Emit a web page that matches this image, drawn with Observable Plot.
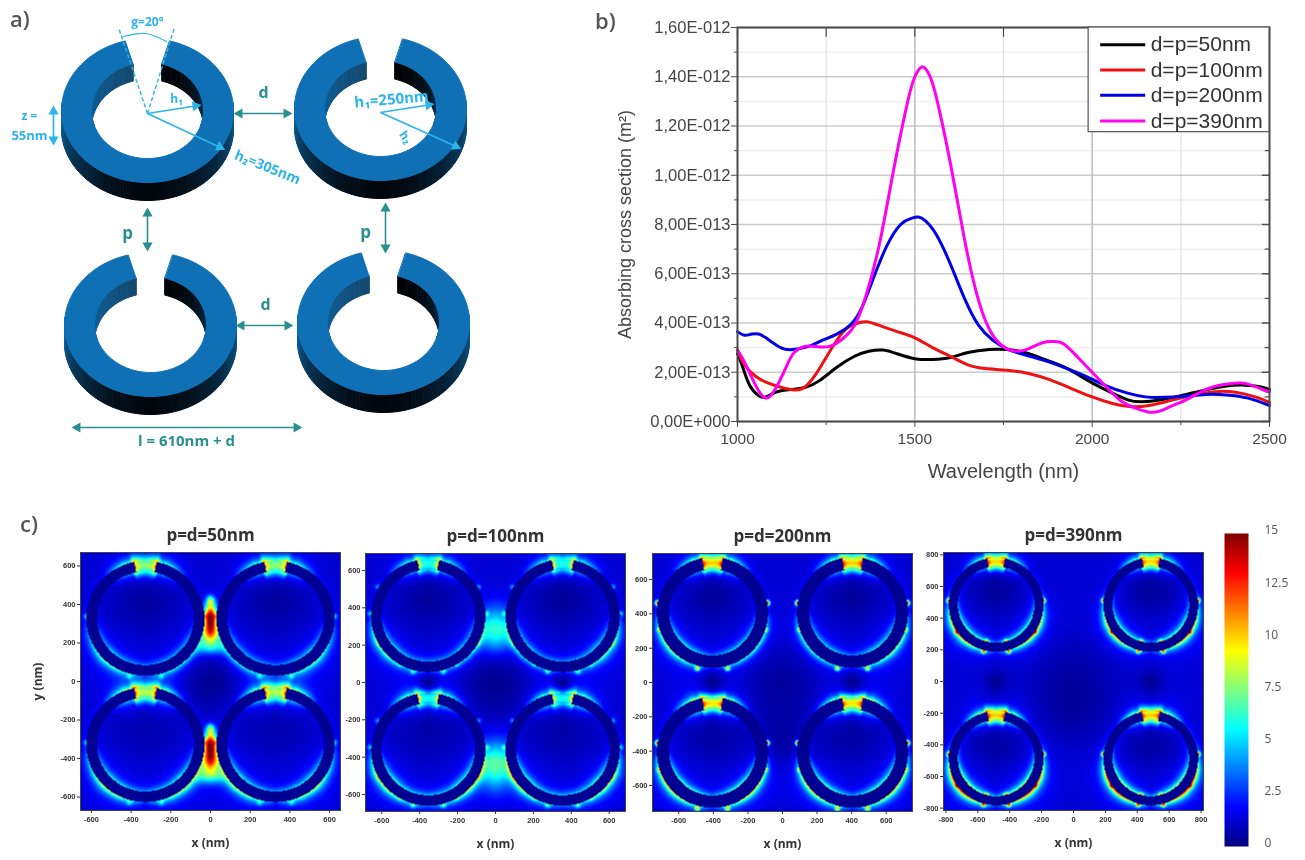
<!DOCTYPE html>
<html><head><meta charset="utf-8">
<script src="https://cdn.jsdelivr.net/npm/d3@7"></script>
<script src="https://cdn.jsdelivr.net/npm/@observablehq/plot@0.6"></script>
<style>
html,body{margin:0;background:#fff;width:1305px;height:860px;overflow:hidden}
#page{position:relative;width:1305px;height:860px}
#page svg{position:absolute;max-width:none;overflow:visible;filter:blur(.6px);background:transparent}
.tag{position:absolute;font:600 22px "Open Sans",sans-serif;color:#555;filter:blur(.5px)}
</style></head><body><div id="page"></div>
<script>
// ---------- panel b: curves (value in 1e-13 m²)
const wlBlack=[1000,1015,1035,1060,1080,1110,1150,1190,1230,1280,1330,1370,1410,1450,1500,1550,1600,1650,1710,1760,1810,1870,1930,1990,2050,2100,2140,2190,2250,2310,2370,2420,2470,2500];
const csBlack=[2.75,2.2,1.45,1.05,1.0,1.2,1.3,1.38,1.65,2.2,2.65,2.85,2.9,2.75,2.55,2.52,2.6,2.8,2.92,2.92,2.8,2.5,2.15,1.65,1.2,.88,.8,.87,1.05,1.25,1.42,1.48,1.42,1.3];
const wlRed=[1000,1020,1050,1080,1120,1160,1190,1220,1250,1280,1310,1340,1365,1400,1450,1500,1550,1600,1650,1700,1760,1820,1880,1940,2000,2060,2110,2160,2220,2280,2340,2400,2460,2500];
const csRed=[2.9,2.3,1.85,1.6,1.4,1.28,1.4,1.9,2.6,3.3,3.8,4.0,4.05,3.9,3.65,3.4,3.0,2.65,2.3,2.15,2.08,1.95,1.7,1.35,1.0,.72,.6,.65,.85,1.05,1.2,1.2,1.0,.78];
const wlBlue=[1000,1020,1040,1060,1080,1110,1140,1170,1200,1240,1280,1320,1350,1380,1420,1460,1490,1510,1530,1560,1600,1640,1680,1720,1760,1800,1860,1920,1980,2040,2100,2150,2200,2260,2320,2380,2440,2500];
const csBlue=[3.65,3.5,3.55,3.55,3.4,3.1,2.92,2.95,3.05,3.3,3.55,3.95,4.6,5.7,7.1,8.0,8.25,8.3,8.15,7.6,6.4,5.0,3.9,3.3,2.95,2.75,2.5,2.2,1.85,1.45,1.15,1.0,.98,1.03,1.1,1.08,.95,.65];
const wlMag=[1000,1020,1050,1080,1110,1140,1160,1190,1220,1260,1300,1330,1360,1400,1440,1480,1500,1520,1540,1560,1600,1640,1680,1720,1760,1790,1820,1860,1890,1920,1960,2000,2040,2080,2120,2160,2190,2220,2260,2300,2340,2400,2440,2480,2500];
const csMag=[2.9,2.4,1.5,.95,1.4,2.3,2.8,3.05,3.05,3.05,3.4,3.9,5.0,7.2,10.2,13.0,14.0,14.4,14.1,13.2,10.5,7.4,4.9,3.5,2.95,2.85,2.95,3.2,3.25,3.15,2.6,2.0,1.4,.85,.55,.38,.42,.6,.85,1.15,1.4,1.55,1.52,1.3,1.2];
const seriesNames=["d=p=50nm","d=p=100nm","d=p=200nm","d=p=390nm"];
const seriesColors=["#000000","#ee1111","#0000e6","#ff00f0"];
const yMajor=[0,2,4,6,8,10,12,14,16], yMinor=[1,3,5,7,9,11,13,15], xMajor=[1000,1500,2000,2500], xMinor=[1250,1750,2250];

// ---------- panel c: features of each field map
const panelTitles=["p=d=50nm","p=d=100nm","p=d=200nm","p=d=390nm"];
const panelLeft=[80,365,652,943], panelTop=[552,553,553,552];
const halfX=[655,686,752,815], halfY=[670,691,752,815];
const ringX=[328,355,405,485], ringY=[328,358,408,485];
const rOuter=[298,302,322,297], rInner=[243,246,250,240];
const panelTicks=[[-600,-400,-200,0,200,400,600],[-600,-400,-200,0,200,400,600],[-600,-400,-200,0,200,400,600],[-800,-600,-400,-200,0,200,400,600,800]];
const glowAngles=[0,20,45,70,90,115,135,155,180];
const outerGlow=[[.5,6,.7,.4,.8,3.5,6,5,1],[.5,5.5,.7,.4,.8,6,6,3.5,1.5],[.5,6.5,.8,.5,1.2,6,7,5,1],[.5,6.5,1,1,3,9,10,6,1]];
const innerGlow=[[.5,3.5,.2,.1,.5,2.5,3.5,3,2],[.5,3.5,.2,.1,.5,3,4,3,2.5],[.5,4,.2,.2,.9,3.5,4.5,4,2],[.5,4,.4,.8,2.2,5,5.5,5,2]];
const gapEdge=[13,12.5,15,15], gapCentre=[8,6,10.5,11];
const hotSpots=[
 [[0,332,22,48,14],[0,250,30,35,8],[0,180,55,30,5],[0,420,14,18,5],[0,-332,22,48,14],[0,-415,30,35,8],[0,-485,55,30,5],[0,-245,14,18,5]],
 [[0,275,50,90,5],[0,-435,50,90,5]],
 [],
 []];
const darkSpots=[
 [[0,0,110,.75],[328,420,110,.6],[-328,420,110,.6],[328,-240,110,.4],[-328,-240,110,.4]],
 [[0,0,130,.8],[-355,0,35,.8],[355,0,35,.8],[-355,450,110,.65],[355,450,110,.65],[-355,-260,110,.5],[355,-260,110,.5]],
 [[0,0,170,.6],[-405,0,45,.75],[405,0,45,.75],[-405,500,110,.65],[405,500,110,.65],[-405,-310,110,.55],[405,-310,110,.55],[0,-330,130,.55]],
 [[0,0,190,.5],[-485,0,50,.7],[485,0,50,.7],[-485,580,110,.65],[485,580,110,.65],[-485,-390,110,.55],[485,-390,110,.55],[0,-180,140,.45]]];
const edgeDots=[
 [[88,0,3],[165,14,2.5]],
 [[60,6,2.5],[88,6,3],[120,-4,2.5],[150,-4,2.5],[165,8,3.5]],
 [[80,0,12],[108,2,4],[165,16,7]],
 [[85,0,10],[125,4,5],[165,8,8],[165,-58,6]]];
const jetStops=["#00007f","#0000ff","#00ffff","#ffff00","#ff0000","#7f0000"];
const jetAt=[0,.125,.375,.625,.875,1];
const cbarValues=[0,2.5,5,7.5,10,12.5,15];

// ---------- panel a: the ring diagram (page pixels)
const ringCx=[147,380,150,383], ringCy=[110,108,324,322];
const tealFrom=[236,147,385,238,74], tealFromY=[113,210,205,325,427], tealTo=[289,147,385,290,299], tealToY=[113,248,250,325,427];
const cyanFrom=[147,147,53,380,380], cyanFromY=[113,113,108,112,112], cyanTo=[198,222,53,431,458], cyanToY=[105,148,142,104,147];
const cyanBoth=[false,false,true,false,false];
const dashFrom=[147,147], dashFromY=[113,113], dashTo=[118,174], dashToY=[27,27];
const arcX=[123,145,166], arcY=[36,33,41];
const tealText=["d","p","p","d","l = 610nm + d"], tealTextX=[263,127,365,265,186], tealTextY=[92,233,232,304,441], tealTextSize=[16,17,17,16,15];
const cyanText=["g=20°","h₁","z =","55nm","h₂=305nm","h₁=250nm","h₂"], cyanTextX=[147,176,29,29,267,391,405], cyanTextY=[22,99,116,135,167,99,137],cyanTextSize=[12,12,12,13,14,15,12], cyanRotate=[0,0,0,0,22,-5,55];

const page=document.getElementById("page");
const fontB='"Liberation Sans",Arial,sans-serif', fontO='"Open Sans",sans-serif';
function place(svg,left,top){svg.style.left=left+"px";svg.style.top=top+"px";page.appendChild(svg);}
function tag(t,x,y){const d=document.createElement("div");d.className="tag";d.textContent=t;d.style.left=x+"px";d.style.top=y+"px";page.appendChild(d);}
tag("a)",10,3);tag("b)",595,5);tag("c)",20,508);

// ---------- panel a
function ringRows(cx,cy,idx){
 const rx=86,ry=72,irx=56,iry=48,depth=18,gap=15,rows=[];
 const O=t=>[cx+rx*Math.sin(t*Math.PI/180),cy-ry*Math.cos(t*Math.PI/180)];
 const I=t=>[cx+irx*Math.sin(t*Math.PI/180),cy-iry*Math.cos(t*Math.PI/180)];
 const side=d3.interpolateRgb("#02070d","#0e6aa8"), wallR=d3.interpolateRgb("#020407","#0d5c92"), wallL=d3.interpolateRgb("#134a70","#0e68a6");
 const add=(k,c,pts)=>pts.forEach(p=>rows.push({x:p[0],y:p[1],k:idx+k,c}));
 for(let t=84;t<276;t+=2){
  const a=O(t),b=O(t+2),u=Math.min(1,Math.pow(Math.abs(t+1-180)/96,1.7));
  add("s"+t,side(u),[a,b,[b[0],b[1]+depth],[a[0],a[1]+depth]]);
 }
 for(let t=gap;t<108;t+=2){
  const a=I(t),b=I(t+2),u=(t-gap)/93;
  add("wr"+t,wallR(u*u),[a,b,[b[0],b[1]+depth-1],[a[0],a[1]+depth-1]]);
  const a2=I(-t),b2=I(-t-2);
  add("wl"+t,wallL(u),[a2,b2,[b2[0],b2[1]+depth-1],[a2[0],a2[1]+depth-1]]);
 }
 const top=[];
 for(let t=gap;t<=360-gap;t+=3)top.push(O(t));
 for(let t=360-gap;t>=gap;t-=3)top.push(I(t));
 add("top","#0f70b6",top);
 return rows;
}
const ringData=ringCx.flatMap((c,i)=>ringRows(c,ringCy[i],"r"+i));
const linkRows=(a,b,c,d)=>a.map((v,i)=>({x1:v,y1:b[i],x2:c[i],y2:d[i]}));
const textRows=(t,x,y,s,r)=>t.map((v,i)=>({t:v,x:x[i],y:y[i],s:s[i],r:r?r[i]:0}));
function headRows(rows,both){
 const out=[];
 rows.forEach((l,i)=>{
  const dx=l.x2-l.x1,dy=l.y2-l.y1,n=Math.hypot(dx,dy),a=Math.atan2(dx,-dy)*180/Math.PI;
  out.push({x:l.x2-3*dx/n,y:l.y2-3*dy/n,r:a});
  if(both===true||(both&&both[i]))out.push({x:l.x1+3*dx/n,y:l.y1+3*dy/n,r:a+180});
 });
 return out;
}
const tealLinks=linkRows(tealFrom,tealFromY,tealTo,tealToY), cyanLinks=linkRows(cyanFrom,cyanFromY,cyanTo,cyanToY);
const linkOpts={x1:"x1",y1:"y1",x2:"x2",y2:"y2"};
place(Plot.plot({width:590,height:470,margin:0,
 x:{domain:[0,590],range:[0,590],axis:null},y:{domain:[0,470],range:[0,470],axis:null},color:{type:"identity"},
 marks:[
  Plot.line(ringData,{x:"x",y:"y",z:"k",fill:"c",stroke:"c",strokeWidth:1,curve:"linear-closed"}),
  Plot.link(tealLinks,{...linkOpts,stroke:"#2a8f8f",strokeWidth:1.6}),
  Plot.dot(headRows(tealLinks,true),{x:"x",y:"y",rotate:"r",symbol:"triangle",r:3.8,fill:"#2a8f8f"}),
  Plot.link(linkRows(dashFrom,dashFromY,dashTo,dashToY),{...linkOpts,stroke:"#2bb5ea",strokeWidth:1.4,strokeDasharray:"4,2.5"}),
  Plot.line(arcX.map((v,i)=>({x:v,y:arcY[i]})),{x:"x",y:"y",stroke:"#2bb5ea",strokeWidth:1.2,curve:"natural"}),
  Plot.link(cyanLinks,{...linkOpts,stroke:"#2bb5ea",strokeWidth:1.7}),
  Plot.dot(headRows(cyanLinks,cyanBoth),{x:"x",y:"y",rotate:"r",symbol:"triangle",r:3.8,fill:"#2bb5ea"}),
  Plot.text(textRows(tealText,tealTextX,tealTextY,tealTextSize),{x:"x",y:"y",text:"t",fontSize:"s",fill:"#2a8f8f",fontWeight:700,fontFamily:fontO}),
  Plot.text(textRows(cyanText,cyanTextX,cyanTextY,cyanTextSize,cyanRotate),{x:"x",y:"y",text:"t",fontSize:"s",rotate:"r",fill:"#2bb5ea",fontWeight:700,fontFamily:fontO})
 ]}),0,0);

// ---------- panel b
const bW=532,bH=394,bL=135,bT=10;
const toRows=(xs,ys)=>xs.map((x,i)=>({x,y:ys[i]}));
const fmtE=v=>v===0?"0,00E+000":(v>=10?(v/10).toFixed(2).replace(".",",")+"E-012":v.toFixed(2).replace(".",",")+"E-013");
const legendY=[15.3,14.27,13.25,12.2];
const dark="#4a4a4a";
const curveLine=(xs,ys,c)=>Plot.line(toRows(xs,ys),{x:"x",y:"y",stroke:c,strokeWidth:3,curve:"natural"});
place(Plot.plot({width:bL+bW+36,height:bT+bH+65,marginLeft:bL,marginTop:bT,marginRight:36,marginBottom:65,
 style:{fontFamily:fontB,color:"#444"},
 x:{domain:[1000,2500],axis:null},y:{domain:[0,16],axis:null},
 marks:[
  Plot.ruleY(yMinor,{stroke:"#efefef",strokeWidth:1.5}),
  Plot.ruleX(xMinor,{stroke:"#e2e2e2",strokeWidth:1.2}),
  Plot.ruleY(yMajor,{stroke:"#cbcbcb",strokeWidth:1.6}),
  Plot.ruleX(xMajor.slice(1,3),{stroke:"#bdbdbd",strokeWidth:1.5}),
  curveLine(wlBlack,csBlack,seriesColors[0]),
  curveLine(wlRed,csRed,seriesColors[1]),
  curveLine(wlBlue,csBlue,seriesColors[2]),
  curveLine(wlMag,csMag,seriesColors[3]),
  Plot.ruleY(yMajor,{x1:2480,x2:2500,stroke:dark,strokeWidth:1.4}),
  Plot.ruleY(yMinor,{x1:2488,x2:2500,stroke:dark,strokeWidth:1.2}),
  Plot.ruleX(xMajor.concat(xMinor),{y1:15.6,y2:16,stroke:dark,strokeWidth:1.2}),
  Plot.axisY({ticks:yMinor,tickSize:3,tickFormat:()=>"",label:null,stroke:dark}),
  Plot.axisY({ticks:yMajor,tickSize:6,tickFormat:fmtE,label:null,fontSize:16.5,stroke:dark,fill:"#444",tickPadding:1}),
  Plot.axisX({ticks:xMinor,tickSize:4,tickFormat:()=>"",label:null,stroke:dark}),
  Plot.axisX({ticks:xMajor,tickSize:6,label:null,fontSize:15.5,stroke:dark,fill:"#444",tickPadding:5,tickFormat:d=>String(d)}),
  Plot.text(["Absorbing cross section (m²)"],{frameAnchor:"left",textAnchor:"middle",dx:-112,rotate:-90,fontSize:18,fill:"#444"}),
  Plot.text(["Wavelength (nm)"],{frameAnchor:"bottom",dy:56,fontSize:20,fill:"#444"}),
  Plot.frame({stroke:dark,strokeWidth:2}),
  Plot.rectX([0],{x1:1990,x2:2500,y1:11.75,y2:16,fill:"white",stroke:"#555",strokeWidth:1.2}),
  Plot.ruleY(legendY.map((y,i)=>({y,c:seriesColors[i]})),{y:"y",x1:2024,x2:2151,stroke:"c",strokeWidth:3}),
  Plot.text(legendY.map((y,i)=>({y,t:seriesNames[i]})),{x:()=>2165,y:"y",text:"t",textAnchor:"start",fontSize:21,fill:"#333"})
 ]}),737-bL,27-bT);

// ---------- panel c
const jet=d3.scaleLinear().domain(jetAt).range(jetStops).interpolate(d3.interpolateRgb);
const jetScale={type:"linear",domain:[0,15],interpolate:t=>jet(t),clamp:true};
function lookup(tb,a){for(let i=1;i<glowAngles.length;i++){if(a<=glowAngles[i]){const f=(a-glowAngles[i-1])/(glowAngles[i]-glowAngles[i-1]);return tb[i-1]+(tb[i]-tb[i-1])*f;}}return tb[tb.length-1];}
function field(p){
 const R=rOuter[p],Ri=rInner[p],Rm=(R+Ri)/2,G=11,cx=ringX[p],cy=ringY[p];
 const centres=[[-cx,cy],[cx,cy],[-cx,-cy],[cx,-cy]];
 const dots=[];
 for(const c of centres)for(const d of edgeDots[p])for(const s of [-1,1]){const a=s*d[0]*Math.PI/180,r=R+d[1];dots.push([c[0]+r*Math.sin(a),c[1]+r*Math.cos(a),d[2]]);}
 return (x,y)=>{
  let v=1.2,solid=false;
  for(const c of centres){
   const dx=x-c[0],dy=y-c[1],r=Math.hypot(dx,dy);
   if(r>R+260)continue;
   const th=Math.abs(Math.atan2(dx,dy))*180/Math.PI;
   if(r>Ri&&r<R&&th>G){solid=true;break;}
   const boost=c[1]<0?1.12:.92;
   if(r<=Ri){const g=lookup(innerGlow[p],th)*boost;v+=g*Math.exp(-(Ri-r)/18)+.3*g*Math.exp(-(Ri-r)/60);}
   else if(r>=R){const g=lookup(outerGlow[p],th)*boost;v+=g*Math.exp(-(r-R)/18)+.25*g*Math.exp(-(r-R)/60);}
   if(th<G*2&&dy>0){
    const e=Math.min(1,th/G),a=(r-Rm)/50,b=(r-Rm)/32,over=Math.max(0,th-G)/3,f=Math.exp(-over*over);
    v+=(gapCentre[p]*Math.exp(-a*a)+(gapEdge[p]-gapCentre[p])*e*e*e*e*Math.exp(-b*b))*f;
   }
  }
  if(solid)return .3;
  for(const h of hotSpots[p]){const a=(x-h[0])/h[2],b=(y-h[1])/h[3];v+=h[4]*Math.exp(-.5*(a*a+b*b));}
  for(const d of darkSpots[p]){const a=(x-d[0])/d[2],b=(y-d[1])/d[2];v*=1-d[3]*Math.exp(-.5*(a*a+b*b));}
  for(const d of dots){const a=(x-d[0])/10,b=(y-d[1])/10,q=a*a+b*b;if(q<9)v+=d[2]*Math.exp(-.5*q);}
  return v;
 };
}
panelTitles.forEach((title,p)=>{
 const W=260,H=258,mL=60,mT=35,mB=50,mR=10;
 place(Plot.plot({width:W+mL+mR,height:H+mT+mB,marginLeft:mL,marginTop:mT,marginRight:mR,marginBottom:mB,
  style:{fontFamily:fontB,color:"#333"},
  x:{domain:[-halfX[p],halfX[p]],axis:null},y:{domain:[-halfY[p],halfY[p]],axis:null},color:jetScale,
  marks:[
   Plot.raster({fill:field(p),x1:-halfX[p],x2:halfX[p],y1:-halfY[p],y2:halfY[p],pixelSize:1}),
   Plot.frame({stroke:"#444",strokeWidth:1}),
   Plot.axisX({ticks:panelTicks[p],tickSize:3,tickPadding:3,fontSize:7.5,fontWeight:700,tickFormat:d=>String(d),stroke:"#333",fill:"#333",label:null}),
   Plot.axisY({ticks:panelTicks[p],tickSize:3,tickPadding:2,fontSize:7.5,fontWeight:700,tickFormat:d=>String(d),stroke:"#333",fill:"#333",label:null}),
   Plot.text(["x (nm)"],{frameAnchor:"bottom",dy:36,fontSize:12,fontWeight:700,fontFamily:fontO,fill:"#333"}),
   ...(p===0?[Plot.text(["y (nm)"],{frameAnchor:"left",textAnchor:"middle",dx:-42,rotate:-90,fontSize:12,fontWeight:700,fontFamily:fontO,fill:"#333"})]:[]),
   Plot.text([title],{frameAnchor:"top",dy:-24,fontSize:17,fontWeight:700,fontFamily:fontO,fill:"#333"})
  ]}),panelLeft[p]-mL,panelTop[p]-mT);
});
place(Plot.plot({width:80,height:313,marginLeft:0,marginTop:0,marginRight:56,marginBottom:0,
 style:{fontFamily:fontO,color:"#555"},
 x:{domain:[0,1],axis:null},y:{domain:[0,15],axis:null},color:jetScale,
 marks:[
  Plot.raster({fill:(x,y)=>y,x1:0,x2:1,y1:0,y2:15,pixelSize:1}),
  Plot.text(cbarValues,{x:()=>1,y:d=>d,dx:16,dy:-3,text:d=>String(d),textAnchor:"start",fontSize:12,fill:"#555"})
 ]}),1224,533);
</script></body></html>
